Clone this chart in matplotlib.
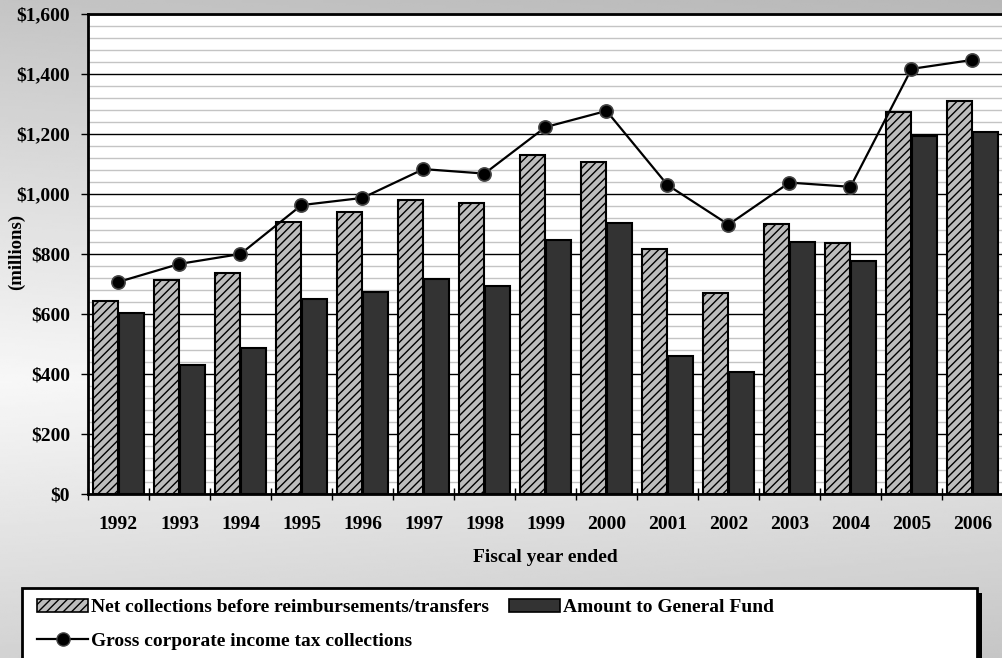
import numpy as np
import matplotlib
matplotlib.use("Agg")
import matplotlib.pyplot as plt
from matplotlib.patches import Rectangle, Patch
from matplotlib.lines import Line2D
from matplotlib.ticker import MultipleLocator, FuncFormatter

years = ["1992", "1993", "1994", "1995", "1996", "1997", "1998", "1999",
         "2000", "2001", "2002", "2003", "2004", "2005", "2006"]
net_collections = [643, 713, 737, 907, 940, 980, 970, 1130, 1107, 817, 670, 900, 837, 1273, 1310]
general_fund = [605, 430, 487, 650, 673, 717, 695, 848, 903, 460, 408, 840, 777, 1195, 1207]
gross_collections = [707, 767, 800, 963, 987, 1083, 1068, 1223, 1277, 1030, 898, 1038, 1024, 1417, 1447]

label_net = "Net collections before reimbursements/transfers"
label_fund = "Amount to General Fund"
label_gross = "Gross corporate income tax collections"

plt.rcParams['font.family'] = ['Liberation Serif', 'DejaVu Serif']
plt.rcParams['font.weight'] = 'bold'
plt.rcParams['hatch.linewidth'] = 1.0

W, H = 1003, 658
fig = plt.figure(figsize=(W / 100, H / 100), dpi=100)

# background gradient
bg = fig.add_axes([0, 0, 1, 1], zorder=-10)
yy = np.linspace(0, 1, 300)[:, None]
xx = np.linspace(0, 1, 300)[None, :]
v = 0.97 - 0.20 * np.abs(yy - 0.58) / 0.58 - 0.05 * xx
bg.imshow(v, cmap='gray', vmin=0, vmax=1, aspect='auto', extent=[0, 1, 0, 1], origin='upper')
bg.set_axis_off()

ax = fig.add_axes([88 / W, 1 - 494 / H, 915 / W, 480 / H])
ax.set_facecolor('white')
x = np.arange(len(years))
bw = 0.42
off = 0.215

ax.bar(x - off, net_collections, bw, facecolor='#bdbdbd', edgecolor='black', hatch='////',
       linewidth=1.5, zorder=3, label=label_net)
ax.bar(x + off, general_fund, bw, facecolor='#333333', edgecolor='black',
       linewidth=1.5, zorder=3, label=label_fund)
ax.plot(x, gross_collections, color='black', lw=1.6, marker='o', markersize=9.5,
        markerfacecolor='black', markeredgecolor='#444444', markeredgewidth=1.2,
        zorder=5, label=label_gross)

ax.set_xlim(-0.5, len(years) - 0.5)
ax.set_ylim(0, 1600)
ax.yaxis.set_major_locator(MultipleLocator(200))
ax.yaxis.set_minor_locator(MultipleLocator(40))
ax.yaxis.set_major_formatter(FuncFormatter(lambda val, p: "${:,.0f}".format(val)))
ax.grid(which='minor', axis='y', color='#c4c4c4', lw=1.0, zorder=0)
ax.grid(which='major', axis='y', color='black', lw=1.0, zorder=1)
ax.tick_params(axis='y', which='major', direction='out', length=5, width=1, pad=8, labelsize=14)
ax.tick_params(axis='y', which='minor', length=0)

ax.set_xticks(x)
ax.set_xticklabels(years)
ax.set_xticks(np.arange(-0.5, len(years), 1.0), minor=True)
ax.tick_params(axis='x', which='major', length=0, pad=16, labelsize=14)
ax.tick_params(axis='x', which='minor', direction='inout', length=9, width=1)
for lab in ax.get_xticklabels() + ax.get_yticklabels():
    lab.set_fontweight('bold')

for s in ['left', 'bottom', 'top']:
    ax.spines[s].set_linewidth(2)
    ax.spines[s].set_color('black')
ax.spines['right'].set_visible(False)
ax.spines['top'].set_zorder(6)

fig.text(545 / W, 1 - 558 / H, "Fiscal year ended", ha='center', va='center',
         fontsize=14, fontweight='bold')
fig.text(16 / W, 1 - 252 / H, "(millions)", ha='center', va='center', rotation=90,
         fontsize=13.5, fontweight='bold')

# legend box with shadow
fig.add_artist(Rectangle((27 / W, -20 / H), 955 / W, (H - 593 + 20) / H,
                         transform=fig.transFigure, facecolor='black', edgecolor='none', zorder=1))
fig.add_artist(Rectangle((22 / W, -20 / H), 955 / W, (H - 588 + 20) / H,
                         transform=fig.transFigure, facecolor='white', edgecolor='black',
                         lw=2, zorder=2))

handles = [
    Patch(facecolor='#bdbdbd', edgecolor='black', hatch='////', lw=1.2, label=label_net),
    Line2D([], [], color='black', lw=1.6, marker='o', markersize=9.5, markerfacecolor='black',
           markeredgecolor='#444444', label=label_gross),
    Patch(facecolor='#333333', edgecolor='black', lw=1.2, label=label_fund),
]
leg = fig.legend(handles=handles, loc='upper left', bbox_to_anchor=(37 / W, 1 - 599 / H),
                 ncol=2, frameon=False, handlelength=2.63, handleheight=0.62,
                 handletextpad=0.15, columnspacing=1.0, labelspacing=0.86, borderpad=0,
                 borderaxespad=0, prop={'weight': 'bold', 'size': 14})
leg.set_zorder(3)

fig.savefig("out.png", dpi=100)
